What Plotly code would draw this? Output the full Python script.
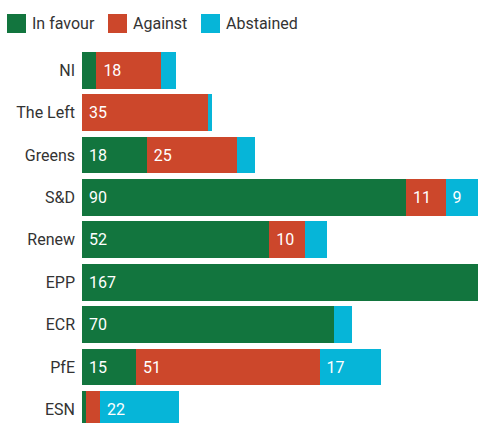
import plotly.graph_objects as go

groups = ["NI", "The Left", "Greens", "S&D", "Renew", "EPP", "ECR", "PfE", "ESN"]
in_favour = [4, 0, 18, 90, 52, 167, 70, 15, 1]
against = [18, 35, 25, 11, 10, 0, 0, 51, 4]
abstained = [4, 1, 5, 9, 6, 0, 5, 17, 22]

series_names = ["In favour", "Against", "Abstained"]
series_values = [in_favour, against, abstained]
series_colors = ["#12753e", "#cc472b", "#06b5d8"]

MIN_LABEL = 9

fig = go.Figure()
for name, vals, color in zip(series_names, series_values, series_colors):
    fig.add_trace(go.Bar(
        y=groups, x=vals, orientation="h", name=name,
        marker=dict(color=color, line=dict(width=0)),
        text=[f" {v}" if v >= MIN_LABEL else "" for v in vals],
        textposition="inside", insidetextanchor="start",
        textfont=dict(color="white", size=16, family="Roboto"),
        showlegend=False, cliponaxis=True,
    ))

# custom legend (pixel offsets from the plot's top-left corner)
PLOT_LEFT = 82
PLOT_TOP = 49
legend_sq_left = [7, 108, 201]
SQ = 19
SQ_TOP = 14
shapes = []
annotations = []
for i, (name, color) in enumerate(zip(series_names, series_colors)):
    xl = legend_sq_left[i] - PLOT_LEFT
    shapes.append(dict(
        type="rect", xref="paper", yref="paper",
        xsizemode="pixel", ysizemode="pixel", xanchor=0, yanchor=1,
        x0=xl, x1=xl + SQ,
        y0=PLOT_TOP - SQ_TOP - SQ, y1=PLOT_TOP - SQ_TOP,
        fillcolor=color, line=dict(width=0),
    ))
    annotations.append(dict(
        text=name, xref="paper", yref="paper", x=0, y=1,
        xanchor="left", yanchor="middle",
        xshift=xl + SQ + 4, yshift=PLOT_TOP - SQ_TOP - SQ / 2,
        showarrow=False, font=dict(size=16, color="#333333", family="Roboto"),
    ))

fig.update_layout(
    width=478, height=423,
    margin=dict(l=82, r=0, t=49, b=0),
    barmode="stack", bargap=0.13,
    paper_bgcolor="white", plot_bgcolor="white",
    font=dict(family="Roboto", size=16, color="#333333"),
    uniformtext=dict(mode="show", minsize=16),
    showlegend=False,
    shapes=shapes, annotations=annotations,
    xaxis=dict(range=[0, 110], visible=False, fixedrange=True),
    yaxis=dict(
        type="category", categoryorder="array", categoryarray=groups,
        range=[8.32, -0.5], showgrid=False, zeroline=False, showline=False,
        ticks="", ticklabelstandoff=6, tickfont=dict(size=16, color="#333333"),
    ),
)

fig.write_html("out.html")
